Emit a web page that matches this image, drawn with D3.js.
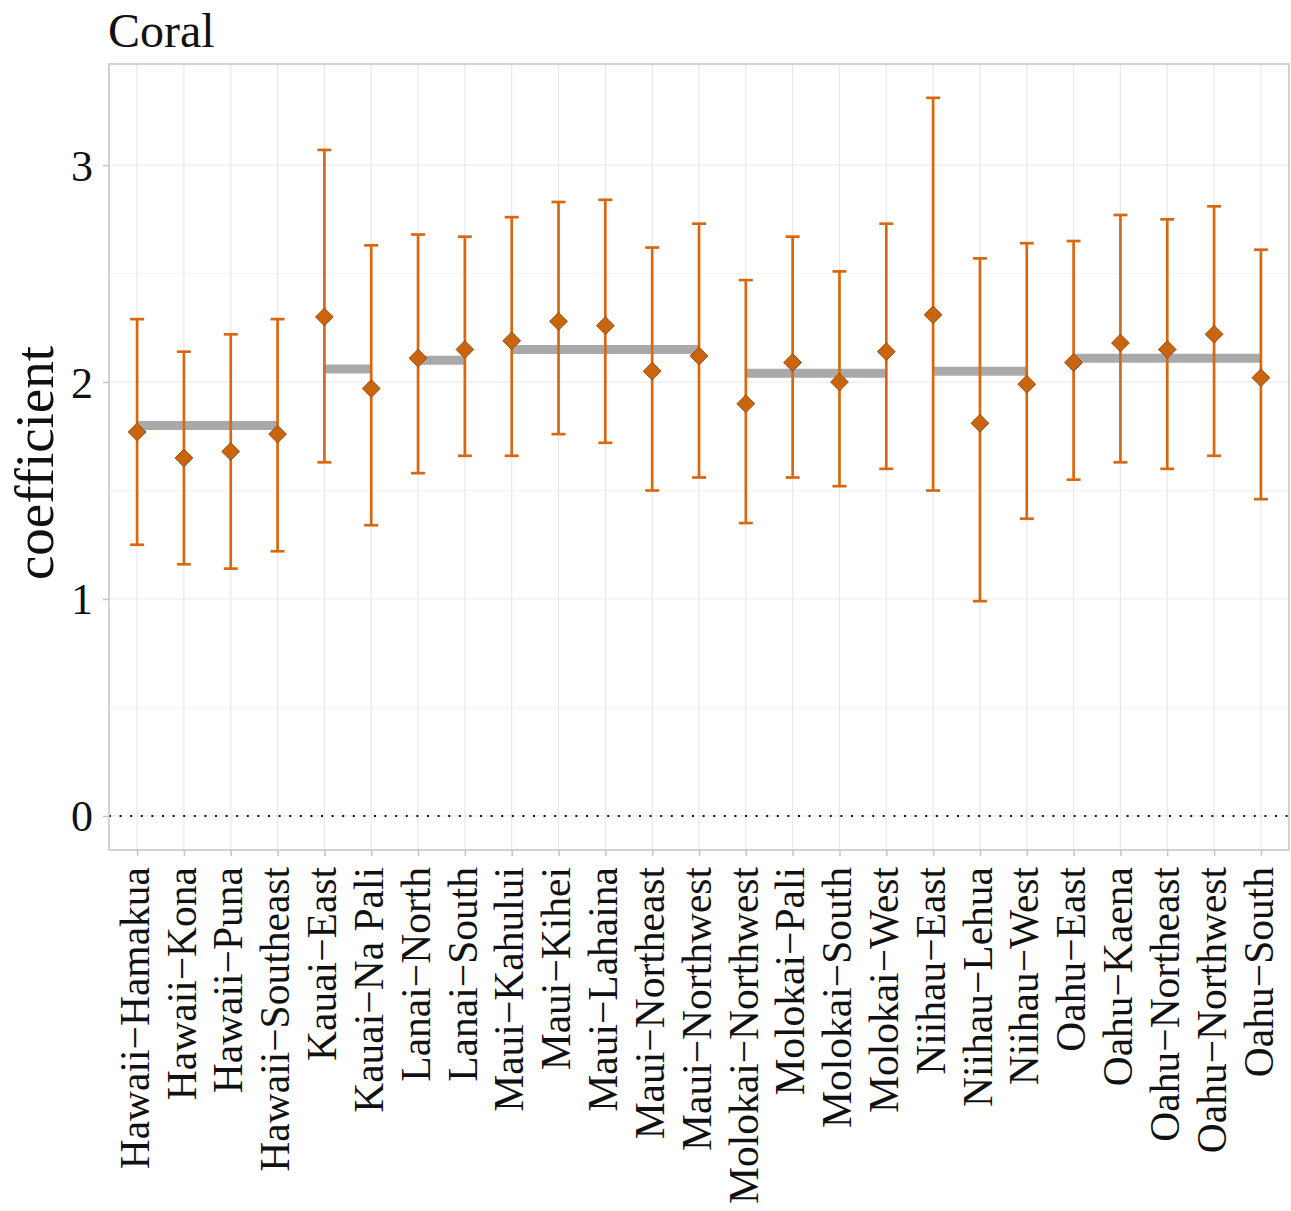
<!DOCTYPE html>
<html>
<head>
<meta charset="utf-8">
<script src="https://cdn.jsdelivr.net/npm/d3@7"></script>
<style>
  html, body { margin: 0; padding: 0; background: #ffffff; }
  svg { display: block; }
</style>
</head>
<body>
<script>
// Site-level coefficients for coral, with 95% intervals
const categories = [
  "Hawaii−Hamakua", "Hawaii−Kona", "Hawaii−Puna", "Hawaii−Southeast",
  "Kauai−East", "Kauai−Na Pali",
  "Lanai−North", "Lanai−South",
  "Maui−Kahului", "Maui−Kihei", "Maui−Lahaina", "Maui−Northeast", "Maui−Northwest",
  "Molokai−Northwest", "Molokai−Pali", "Molokai−South", "Molokai−West",
  "Niihau−East", "Niihau−Lehua", "Niihau−West",
  "Oahu−East", "Oahu−Kaena", "Oahu−Northeast", "Oahu−Northwest", "Oahu−South"
];
const estimates = [
  1.77, 1.65, 1.68, 1.76,
  2.30, 1.97,
  2.11, 2.15,
  2.19, 2.28, 2.26, 2.05, 2.12,
  1.90, 2.09, 2.00, 2.14,
  2.31, 1.81, 1.99,
  2.09, 2.18, 2.15, 2.22, 2.02
];
const lower = [
  1.25, 1.16, 1.14, 1.22,
  1.63, 1.34,
  1.58, 1.66,
  1.66, 1.76, 1.72, 1.50, 1.56,
  1.35, 1.56, 1.52, 1.60,
  1.50, 0.99, 1.37,
  1.55, 1.63, 1.60, 1.66, 1.46
];
const upper = [
  2.29, 2.14, 2.22, 2.29,
  3.07, 2.63,
  2.68, 2.67,
  2.76, 2.83, 2.84, 2.62, 2.73,
  2.47, 2.67, 2.51, 2.73,
  3.31, 2.57, 2.64,
  2.65, 2.77, 2.75, 2.81, 2.61
];
// Island-level means
const islands = ["Hawaii", "Kauai", "Lanai", "Maui", "Molokai", "Niihau", "Oahu"];
const islandMeans = [1.80, 2.06, 2.10, 2.15, 2.04, 2.05, 2.11];
const yTicks = [0, 1, 2, 3];
const yMinor = [0.5, 1.5, 2.5];

const W = 1291, H = 1211;
const panel = { left: 109, right: 1289, top: 64, bottom: 850 };
const serif = "'Liberation Serif', 'DejaVu Serif', 'Times New Roman', serif";
const barColor = "#d9670f";
const pointFill = "#c9650f";
const pointStroke = "#9a4a08";

const svg = d3.select("body").append("svg")
  .attr("width", W).attr("height", H);

const x = d3.scalePoint()
  .domain(categories)
  .range([panel.left, panel.right])
  .padding(0.6);

const y = d3.scaleLinear()
  .domain([-0.157, 3.466])
  .range([panel.bottom, panel.top]);

// Gridlines
const grid = svg.append("g");
grid.selectAll("line.minor").data(yMinor).join("line")
  .attr("x1", panel.left).attr("x2", panel.right)
  .attr("y1", d => y(d)).attr("y2", d => y(d))
  .attr("stroke", "#f5f5f5").attr("stroke-width", 1);
grid.selectAll("line.major").data(yTicks).join("line")
  .attr("x1", panel.left).attr("x2", panel.right)
  .attr("y1", d => y(d)).attr("y2", d => y(d))
  .attr("stroke", "#ececec").attr("stroke-width", 1.2);
grid.selectAll("line.vert").data(categories).join("line")
  .attr("x1", d => x(d)).attr("x2", d => x(d))
  .attr("y1", panel.top).attr("y2", panel.bottom)
  .attr("stroke", "#e8e8e8").attr("stroke-width", 1.2);

// Zero reference line
svg.append("line")
  .attr("x1", panel.left).attr("x2", panel.right)
  .attr("y1", y(0)).attr("y2", y(0))
  .attr("stroke", "#111").attr("stroke-width", 2)
  .attr("stroke-dasharray", "2,8.6");

// Island mean segments spanning each island's sites
const islandSpans = islands.map((isl, i) => {
  const sites = categories.filter(c => c.split("−")[0] === isl);
  return { island: isl, mean: islandMeans[i], first: sites[0], last: sites[sites.length - 1] };
});
svg.append("g").selectAll("line").data(islandSpans).join("line")
  .attr("x1", d => x(d.first)).attr("x2", d => x(d.last))
  .attr("y1", d => y(d.mean)).attr("y2", d => y(d.mean))
  .attr("stroke", "#a9a9a9").attr("stroke-width", 9);

// Error bars
const rows = categories.map((c, i) => ({ c, est: estimates[i], lo: lower[i], hi: upper[i] }));
const eb = svg.append("g");
eb.selectAll("line.v").data(rows).join("line")
  .attr("x1", d => x(d.c)).attr("x2", d => x(d.c))
  .attr("y1", d => y(d.lo)).attr("y2", d => y(d.hi))
  .attr("stroke", barColor).attr("stroke-width", 2.7);
const capHalf = 7;
eb.selectAll("line.top").data(rows).join("line")
  .attr("x1", d => x(d.c) - capHalf).attr("x2", d => x(d.c) + capHalf)
  .attr("y1", d => y(d.hi)).attr("y2", d => y(d.hi))
  .attr("stroke", barColor).attr("stroke-width", 2.7);
eb.selectAll("line.bot").data(rows).join("line")
  .attr("x1", d => x(d.c) - capHalf).attr("x2", d => x(d.c) + capHalf)
  .attr("y1", d => y(d.lo)).attr("y2", d => y(d.lo))
  .attr("stroke", barColor).attr("stroke-width", 2.7);

// Point estimates as diamonds
const diamond = d3.symbol().type(d3.symbolDiamond2).size(200);
svg.append("g").selectAll("path").data(rows).join("path")
  .attr("d", diamond)
  .attr("transform", d => `translate(${x(d.c)},${y(d.est)})`)
  .attr("fill", pointFill).attr("stroke", pointStroke).attr("stroke-width", 1);

// Panel border
svg.append("rect")
  .attr("x", panel.left).attr("y", panel.top)
  .attr("width", panel.right - panel.left).attr("height", panel.bottom - panel.top)
  .attr("fill", "none").attr("stroke", "#c4c4c4").attr("stroke-width", 1.5);

// Y axis
const yAxis = svg.append("g")
  .attr("transform", `translate(${panel.left},0)`)
  .call(d3.axisLeft(y).tickValues(yTicks).tickSize(6).tickPadding(10).tickFormat(d3.format("d")));
yAxis.select(".domain").remove();
yAxis.selectAll(".tick line").attr("stroke", "#c4c4c4").attr("stroke-width", 1.5);
yAxis.selectAll(".tick text")
  .attr("font-family", serif).attr("font-size", 44).attr("fill", "#111")
  .attr("dy", "0.34em");

// X axis
const xAxis = svg.append("g")
  .attr("transform", `translate(0,${panel.bottom})`)
  .call(d3.axisBottom(x).tickSize(6).tickPadding(0));
xAxis.select(".domain").remove();
xAxis.selectAll(".tick line").attr("stroke", "#c4c4c4").attr("stroke-width", 1.5);
xAxis.selectAll(".tick text")
  .attr("font-family", serif).attr("font-size", 41.5).attr("fill", "#111")
  .attr("text-anchor", "end")
  .attr("transform", "rotate(-90)")
  .attr("x", -17).attr("y", 0).attr("dy", "0.27em");

// Axis title
svg.append("text")
  .attr("transform", `translate(53,${(panel.top + panel.bottom) / 2 + 6}) rotate(-90)`)
  .attr("text-anchor", "middle")
  .attr("font-family", serif).attr("font-size", 55).attr("fill", "#111")
  .text("coefficient");

// Title
svg.append("text")
  .attr("x", 108).attr("y", 47)
  .attr("font-family", serif).attr("font-size", 48).attr("fill", "#111")
  .text("Coral");
</script>
</body>
</html>
